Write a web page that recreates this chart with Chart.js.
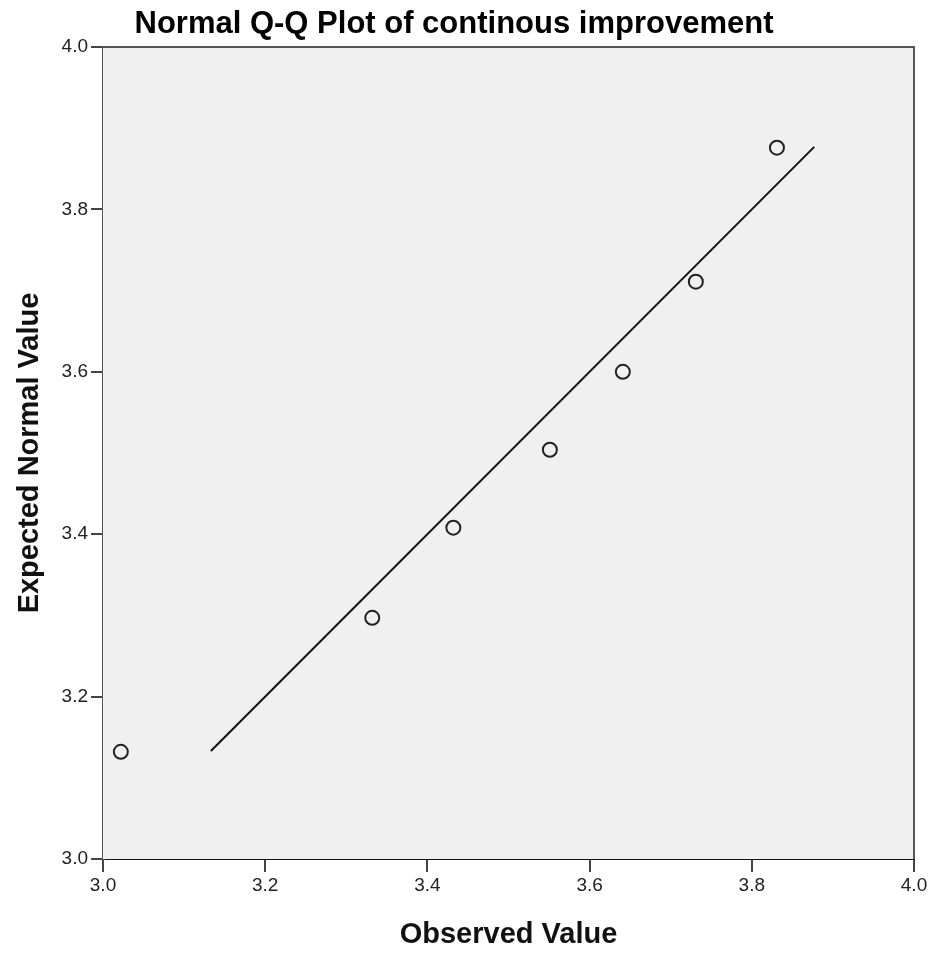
<!DOCTYPE html>
<html><head><meta charset="utf-8">
<script src="https://cdn.jsdelivr.net/npm/chart.js@4/dist/chart.umd.min.js"></script>
<style>html,body{margin:0;padding:0;background:#fff;}#wrap{width:935px;height:953px;}</style>
</head><body><div id="wrap"><canvas id="c" width="935" height="953"></canvas></div>
<script>
const chartTitle = "Normal Q-Q Plot of continous improvement";
const xAxisTitle = "Observed Value";
const yAxisTitle = "Expected Normal Value";
const observedValues = [3.022, 3.332, 3.432, 3.551, 3.641, 3.731, 3.831];
const expectedValues = [3.132, 3.297, 3.408, 3.504, 3.600, 3.711, 3.876];
const refLineX = [3.133, 3.877];
const refLineY = [3.133, 3.877];
const axisMin = 3.0, axisMax = 4.0, axisStep = 0.2;

const points = observedValues.map((v,i)=>({x:v,y:expectedValues[i]}));
const linePts = refLineX.map((v,i)=>({x:v,y:refLineY[i]}));

const frame = {
  id:'frame',
  beforeDatasetsDraw(chart){
    const {ctx, chartArea:a} = chart;
    ctx.save();
    ctx.fillStyle = '#f0f0f0';
    ctx.fillRect(a.left, a.top, a.right-a.left, a.bottom-a.top);
    ctx.restore();
  },
  afterDraw(chart){
    const {ctx, chartArea:a} = chart;
    ctx.save();
    ctx.strokeStyle = '#555';
    ctx.lineWidth = 2;
    ctx.beginPath();
    ctx.moveTo(a.left, a.top); ctx.lineTo(a.right, a.top); ctx.lineTo(a.right, a.bottom);
    ctx.stroke();
    ctx.fillStyle = '#000';
    ctx.font = 'bold 31px "Liberation Sans", Arial, sans-serif';
    ctx.textAlign = 'center';
    ctx.textBaseline = 'alphabetic';
    ctx.fillText(chartTitle, 454, 33);
    ctx.restore();
  }
};

const tickFont = {family:'"Liberation Sans", Arial, sans-serif', size:19};
const titleFont = {family:'"Liberation Sans", Arial, sans-serif', size:29, weight:'bold'};

new Chart(document.getElementById('c'), {
  type:'scatter',
  data:{datasets:[
    {type:'line', data:linePts, borderColor:'#111', borderWidth:2, pointRadius:0, fill:false, order:2},
    {data:points, pointStyle:'circle', pointRadius:7, borderColor:'#222', borderWidth:2, backgroundColor:'rgba(0,0,0,0)', order:1}
  ]},
  options:{
    responsive:false, animation:false, devicePixelRatio:1,
    layout:{padding:{top:47, right:21, left:0, bottom:0}},
    plugins:{legend:{display:false}, tooltip:{enabled:false}, title:{display:false}},
    scales:{
      x:{type:'linear', min:axisMin, max:axisMax,
        afterFit(s){s.height = 94;},
        ticks:{stepSize:axisStep, font:tickFont, color:'#222', padding:2, maxRotation:0, callback:v=>Number(v).toFixed(1)},
        grid:{drawOnChartArea:false, drawTicks:true, tickLength:13, color:'#444', lineWidth:2},
        border:{color:'#111', width:2},
        title:{display:true, text:xAxisTitle, font:titleFont, color:'#111', padding:{top:10, bottom:1}}
      },
      y:{type:'linear', min:axisMin, max:axisMax,
        afterFit(s){s.width = 103;},
        ticks:{stepSize:axisStep, font:tickFont, color:'#222', padding:3, callback:v=>Number(v).toFixed(1)},
        grid:{drawOnChartArea:false, drawTicks:true, tickLength:12, color:'#444', lineWidth:2},
        border:{color:'#555', width:3},
        title:{display:true, text:yAxisTitle, font:titleFont, color:'#111', padding:{top:13, bottom:0}}
      }
    }
  },
  plugins:[frame]
});
</script></body></html>
